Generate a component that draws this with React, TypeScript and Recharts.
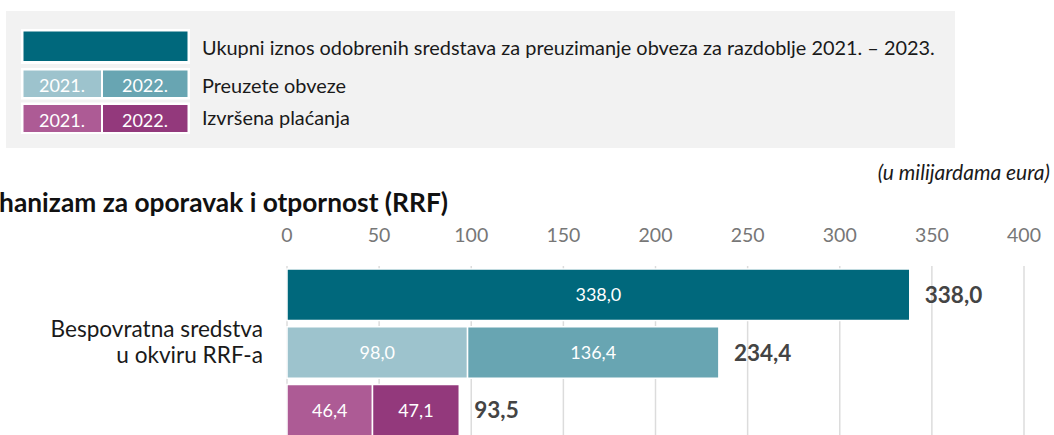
import { BarChart, Bar, XAxis, YAxis, CartesianGrid, LabelList } from 'recharts';

// values in billions of euro
const categoryLines = ['Bespovratna sredstva', 'u okviru RRF-a'];
const years = ['2021.', '2022.'];
const approvedTotal = [338.0];
const committed = [98.0, 136.4];
const paid = [46.4, 47.1];
const xTicks = [0, 50, 100, 150, 200, 250, 300, 350, 400];

const legendLabels = [
  'Ukupni iznos odobrenih sredstava za preuzimanje obveza za razdoblje 2021. – 2023.',
  'Preuzete obveze',
  'Izvršena plaćanja',
];

const COLORS = {
  total: '#00687c',
  c2021: '#9dc3cd',
  c2022: '#68a5b2',
  p2021: '#ad5b95',
  p2022: '#93397c',
};

const FONT = 'Lato, "Open Sans", sans-serif';

const data = [
  { row: 'approved', total: approvedTotal[0] },
  { row: 'committed', c2021: committed[0], c2022: committed[1] },
  { row: 'paid', p2021: paid[0], p2022: paid[1] },
];

const rowTotal = (d: any) =>
  ['total', 'c2021', 'c2022', 'p2021', 'p2022'].reduce((s, k) => s + (d[k] ?? 0), 0);

// total label goes on the last segment of each row
const totalFor = (key: string) => (d: any) => (d[key] != null ? rowTotal(d) : null);

const fmt = (v: number) => v.toFixed(1).replace('.', ',');

const innerLabel = (props: any) => {
  const { x, y, width, height, value } = props;
  if (value == null || !width) return null;
  return (
    <text
      x={x + width / 2}
      y={y + height / 2}
      dy="0.36em"
      textAnchor="middle"
      fill="#fff"
      fontSize={18}
      fontFamily={FONT}
    >
      {fmt(Number(value))}
    </text>
  );
};

const totalLabel = (props: any) => {
  const { x, y, width, height, value } = props;
  if (value == null || !width) return null;
  return (
    <text
      x={x + width + 15}
      y={y + height / 2}
      dy="0.36em"
      fill="#444"
      fontSize={22.5}
      fontWeight={700}
      fontFamily={FONT}
    >
      {fmt(Number(value))}
    </text>
  );
};

function Overlay() {
  return (
    <svg
      width={1054}
      height={435}
      style={{ position: 'absolute', left: 0, top: 0, pointerEvents: 'none' }}
      fontFamily={FONT}
    >
      <rect x={6} y={11} width={949} height={137} fill="#f2f2f2" />
      {/* swatch: total */}
      <rect x={21} y={29} width={169} height={35} fill="#fff" />
      <rect x={23.5} y={31.5} width={164} height={29.5} fill={COLORS.total} />
      {/* swatch: committed */}
      <rect x={21} y={68} width={169} height={31.5} fill="#fff" />
      <rect x={23.5} y={70.5} width={77.5} height={26.5} fill={COLORS.c2021} />
      <rect x={103} y={70.5} width={84.5} height={26.5} fill={COLORS.c2022} />
      {/* swatch: paid */}
      <rect x={21} y={102.5} width={169} height={31.5} fill="#fff" />
      <rect x={23.5} y={105} width={77.5} height={27} fill={COLORS.p2021} />
      <rect x={103} y={105} width={84.5} height={27} fill={COLORS.p2022} />
      {[92, 126.5].map((by) =>
        years.map((yr, i) => (
          <text
            key={`${by}-${yr}`}
            x={i === 0 ? 62 : 145}
            y={by}
            textAnchor="middle"
            fill="#fff"
            fontSize={18}
          >
            {yr}
          </text>
        ))
      )}
      {legendLabels.map((t, i) => (
        <text key={t} x={202} y={[55, 93, 125][i]} fill="#1a1a1a" fontSize={19.9}>
          {t}
        </text>
      ))}

      <text x={1050} y={179.5} textAnchor="end" fontStyle="italic" fill="#1a1a1a" fontSize={21}>
        (u milijardama eura)
      </text>
      <text x={448} y={212} textAnchor="end" fontWeight={700} fill="#111" fontSize={26.3}>
        Mehanizam za oporavak i otpornost (RRF)
      </text>

      {categoryLines.map((t, i) => (
        <text key={t} x={263} y={336.5 + i * 26.7} textAnchor="end" fill="#1a1a1a" fontSize={22.6}>
          {t}
        </text>
      ))}
    </svg>
  );
}

export default function App() {
  return (
    <div
      style={{
        position: 'absolute',
        left: 0,
        top: 0,
        width: 1054,
        height: 435,
        overflow: 'hidden',
        background: '#fff',
      }}
    >
      <BarChart
        width={1054}
        height={460}
        data={data}
        layout="vertical"
        margin={{ top: 206, right: 30, bottom: 20.6, left: 287 }}
        barSize={51.4}
      >
        <CartesianGrid vertical horizontal={false} stroke="#dcdcdc" strokeWidth={1.5} />
        <XAxis
          type="number"
          orientation="top"
          domain={[0, 400]}
          ticks={xTicks}
          axisLine={false}
          tickLine={false}
          tickSize={0}
          tickMargin={24}
          tick={{ fill: '#777', fontSize: 19.5, fontFamily: FONT }}
          height={60}
        />
        <YAxis type="category" dataKey="row" hide />
        <Bar dataKey="total" stackId="a" fill={COLORS.total} stroke="#fff" strokeWidth={1.5} isAnimationActive={false}>
          <LabelList dataKey="total" content={innerLabel} />
          <LabelList dataKey={totalFor('total')} content={totalLabel} />
        </Bar>
        <Bar dataKey="c2021" stackId="a" fill={COLORS.c2021} stroke="#fff" strokeWidth={1.5} isAnimationActive={false}>
          <LabelList dataKey="c2021" content={innerLabel} />
        </Bar>
        <Bar dataKey="c2022" stackId="a" fill={COLORS.c2022} stroke="#fff" strokeWidth={1.5} isAnimationActive={false}>
          <LabelList dataKey="c2022" content={innerLabel} />
          <LabelList dataKey={totalFor('c2022')} content={totalLabel} />
        </Bar>
        <Bar dataKey="p2021" stackId="a" fill={COLORS.p2021} stroke="#fff" strokeWidth={1.5} isAnimationActive={false}>
          <LabelList dataKey="p2021" content={innerLabel} />
        </Bar>
        <Bar dataKey="p2022" stackId="a" fill={COLORS.p2022} stroke="#fff" strokeWidth={1.5} isAnimationActive={false}>
          <LabelList dataKey="p2022" content={innerLabel} />
          <LabelList dataKey={totalFor('p2022')} content={totalLabel} />
        </Bar>
      </BarChart>
      <Overlay />
    </div>
  );
}
